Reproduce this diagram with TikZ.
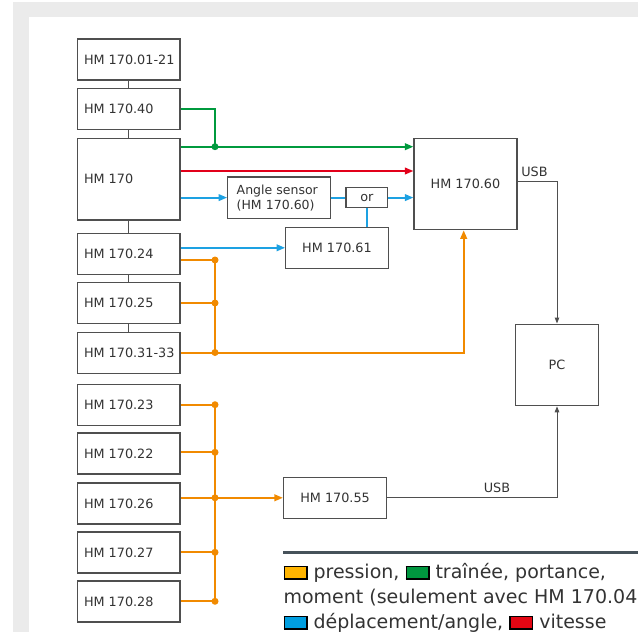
\documentclass[tikz,border=0pt]{standalone}
\usepackage{fontspec}
\setmainfont{DejaVu Sans}
\usetikzlibrary{arrows.meta}
\definecolor{bandgrey}{HTML}{EBEBEB}
\definecolor{boxline}{HTML}{4F4F4F}
\definecolor{txt}{HTML}{333333}
\definecolor{corange}{HTML}{F18A00}
\definecolor{cgreen}{HTML}{009A3E}
\definecolor{cred}{HTML}{E2001A}
\definecolor{cblue}{HTML}{1DA1E2}
\definecolor{legbar}{HTML}{46525A}
\definecolor{swamber}{HTML}{FFB400}
\definecolor{swgreen}{HTML}{00963F}
\definecolor{swblue}{HTML}{009EE0}
\definecolor{swred}{HTML}{E30613}
\newcommand\lgswatch[1]{{\setlength\fboxsep{0pt}\setlength\fboxrule{1.3pt}\fcolorbox{black}{#1}{\rule{0pt}{11.4pt}\hspace{21.4pt}}}}
\newcommand\lbl[1]{\makebox[89.5pt][l]{#1}}
\tikzset{
  box/.style={draw=boxline, line width=1.1pt, fill=white, text=txt,
    font=\fontsize{12.8pt}{15pt}\selectfont, inner sep=0pt, minimum height=41pt},
  lbox/.style={box, minimum width=102.5pt},
  link/.style={draw=boxline, line width=1pt},
  oline/.style={draw=corange, line width=2pt},
  gline/.style={draw=cgreen, line width=2pt},
  rline/.style={draw=cred, line width=2pt},
  bline/.style={draw=cblue, line width=2pt},
  arr/.style={-{Triangle[length=8.5pt,width=6.5pt]}},
  usb/.style={draw=boxline, line width=1pt, -{Triangle[length=6pt,width=4.5pt]}},
  usblbl/.style={text=txt, font=\fontsize{12.8pt}{15pt}\selectfont, inner sep=0pt},
  legtext/.style={text=txt, font=\fontsize{19pt}{22pt}\selectfont, inner sep=0pt},
}
\begin{document}
\begin{tikzpicture}[x=1pt,y=-1pt]
\useasboundingbox (0,0) rectangle (638,632);
\clip (0,0) rectangle (638,632);
% background bands
\fill[bandgrey] (13,2) rectangle (638,17);
\fill[bandgrey] (13,2) rectangle (29,632);

% left column
\node[lbox] (n0121) at (128.75,59.5) {\lbl{HM 170.01-21}};
\node[lbox] (n40) at (128.75,108.75) {\lbl{HM 170.40}};
\node[lbox, minimum height=81.5pt] (n170) at (128.75,179.25) {\lbl{HM 170}};
\node[lbox] (n24) at (128.75,254) {\lbl{HM 170.24}};
\node[lbox] (n25) at (128.75,303) {\lbl{HM 170.25}};
\node[lbox] (n3133) at (128.75,352.8) {\lbl{HM 170.31-33}};
\node[lbox] (n23) at (128.75,405) {\lbl{HM 170.23}};
\node[lbox] (n22) at (128.75,453.5) {\lbl{HM 170.22}};
\node[lbox] (n26) at (128.75,503.5) {\lbl{HM 170.26}};
\node[lbox] (n27) at (128.75,552.5) {\lbl{HM 170.27}};
\node[lbox] (n28) at (128.75,601.5) {\lbl{HM 170.28}};

\draw[link] (n0121.south) -- (n40.north);
\draw[link] (n40.south) -- (n170.north);
\draw[link] (n170.south) -- (n24.north);
\draw[link] (n24.south) -- (n25.north);
\draw[link] (n25.south) -- (n3133.north);

% middle / right
\node[box, minimum width=102.6pt, minimum height=41.3pt, text width=84.6pt, align=left,
  font=\fontsize{12.5pt}{15pt}\selectfont] (angle) at (279,197.6) {Angle sensor\\(HM 170.60)};
\node[box, minimum width=41.7pt, minimum height=20.6pt] (or) at (366.85,197.6) {or};
\node[box, minimum width=102.6pt] (n61) at (337,247.8) {HM 170.61};
\node[box, minimum width=103pt, minimum height=91.4pt] (n60) at (465.5,184) {HM 170.60};
\node[box, minimum width=82.3pt, minimum height=81.7pt] (pc) at (557,364.9) {PC};
\node[box, minimum width=103.2pt] (n55) at (335.1,497.8) {HM 170.55};

% green
\coordinate (gdot) at (215,146.7);
\draw[gline] (n40.east) -| (gdot);
\draw[gline, arr] (n170.east |- gdot) -- (n60.west |- gdot);
\fill[cgreen] (gdot) circle (3.5pt);

% red
\coordinate (rr) at (0,171);
\draw[rline, arr] (n170.east |- rr) -- (n60.west |- rr);

% blue
\draw[bline, arr] (n170.east |- angle.west) -- (angle.west);
\draw[bline] (angle.east) -- (or.west);
\draw[bline, arr] (or.east) -- (n60.west |- or.east);
\draw[bline] (or.south) -- (or.south |- n61.north);
\draw[bline, arr] (n24.east |- n61.west) -- (n61.west);

% orange upper
\coordinate (o1) at (215,260);
\coordinate (o2) at (215,303);
\coordinate (o3) at (215,352.5);
\coordinate (oc) at (463.7,352.5);
\draw[oline] (n24.east |- o1) -- (o1) -- (o3);
\draw[oline] (n25.east |- o2) -- (o2);
\draw[oline, arr] (n3133.east |- o3) -- (oc) -- (oc |- n60.south);
\foreach \c in {o1,o2,o3} \fill[corange] (\c) circle (3.5pt);

% orange lower
\coordinate (p1) at (215,404.7);
\coordinate (p2) at (215,452.3);
\coordinate (p3) at (215,497.8);
\coordinate (p4) at (215,552.3);
\coordinate (p5) at (215,601.3);
\draw[oline] (p1) -- (p5);
\draw[oline] (n23.east |- p1) -- (p1);
\draw[oline] (n22.east |- p2) -- (p2);
\draw[oline] (n26.east |- p3) -- (p3);
\draw[oline] (n27.east |- p4) -- (p4);
\draw[oline] (n28.east |- p5) -- (p5);
\draw[oline, arr] (p3) -- (n55.west);
\foreach \c in {p1,p2,p3,p4,p5} \fill[corange] (\c) circle (3.5pt);

% USB
\draw[usb] ([yshift=2.3pt]n60.east) -| (pc.north);
\draw[usb] (n55.east) -| (pc.south);
\node[usblbl] (usb1) at (534.5,172) {USB};
\node[usblbl] (usb2) at (497,487.7) {USB};

% legend
\draw[legbar, line width=3pt] (283.3,552.7) -- (640,552.7);
\node[legtext, anchor=base west] (leg1) at (283.3,578.3) {\lgswatch{swamber} pression, \lgswatch{swgreen} traînée, portance,};
\node[legtext, anchor=base west] (leg2) at (283.3,603.5) {moment (seulement avec HM 170.04)};
\node[legtext, anchor=base west] (leg3) at (283.3,628.3) {\lgswatch{swblue} déplacement/angle, \lgswatch{swred} vitesse};
\end{tikzpicture}
\end{document}
